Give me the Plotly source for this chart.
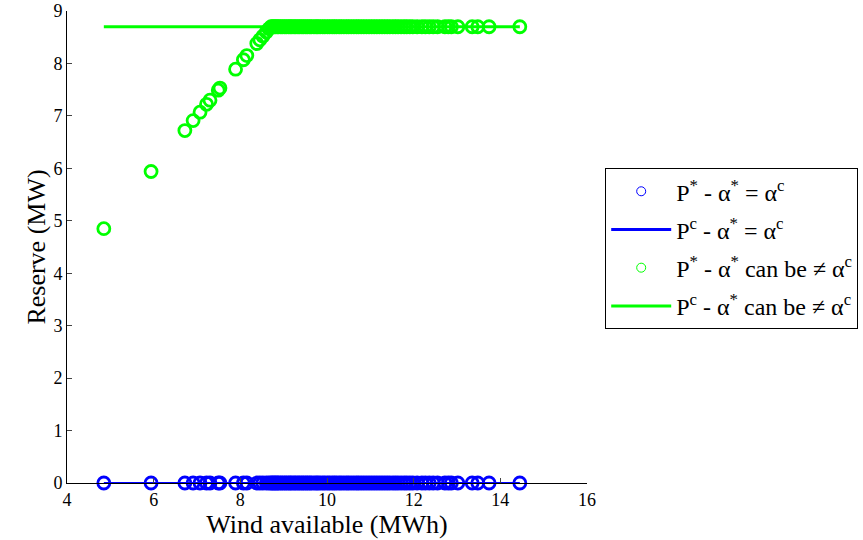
import plotly.graph_objects as go

# Wind available (MWh) for each scenario
x_wind = [4.85, 5.94, 6.72, 6.91, 7.07, 7.22, 7.30, 7.49, 7.53, 7.89, 8.07, 8.15,
          8.38, 8.45, 8.52, 8.60, 8.66, 8.71, 8.74, 8.78, 8.81, 8.85, 8.88, 8.93,
          8.97, 9.02, 9.06, 9.11, 9.15, 9.19, 9.24, 9.28, 9.33, 9.37, 9.42, 9.46,
          9.51, 9.55, 9.60, 9.64, 9.70, 9.75, 9.79, 9.84, 9.90, 9.95, 10.01, 10.06,
          10.12, 10.17, 10.22, 10.28, 10.33, 10.39, 10.45, 10.50, 10.56, 10.62,
          10.68, 10.73, 10.79, 10.85, 10.91, 10.97, 11.03, 11.09, 11.15, 11.21,
          11.27, 11.33, 11.39, 11.45, 11.52, 11.58, 11.64, 11.71, 11.78, 11.84,
          11.91, 11.98, 12.08, 12.19, 12.27, 12.36, 12.45, 12.55, 12.72, 12.80,
          12.87, 13.02, 13.35, 13.48, 13.74, 14.45]

# Reserve (MW) when P* - a* = a^c
y_blue = [0.0] * len(x_wind)

# Reserve (MW) when P* - a* can differ from a^c
y_green = [4.85, 5.94, 6.72, 6.91, 7.07, 7.22, 7.30, 7.49, 7.53, 7.89, 8.07, 8.15,
           8.38, 8.45, 8.52, 8.60, 8.66, 8.70, 8.70, 8.70, 8.70, 8.70, 8.70, 8.70,
           8.70, 8.70, 8.70, 8.70, 8.70, 8.70, 8.70, 8.70, 8.70, 8.70, 8.70, 8.70,
           8.70, 8.70, 8.70, 8.70, 8.70, 8.70, 8.70, 8.70, 8.70, 8.70, 8.70, 8.70,
           8.70, 8.70, 8.70, 8.70, 8.70, 8.70, 8.70, 8.70, 8.70, 8.70, 8.70, 8.70,
           8.70, 8.70, 8.70, 8.70, 8.70, 8.70, 8.70, 8.70, 8.70, 8.70, 8.70, 8.70,
           8.70, 8.70, 8.70, 8.70, 8.70, 8.70, 8.70, 8.70, 8.70, 8.70, 8.70, 8.70,
           8.70, 8.70, 8.70, 8.70, 8.70, 8.70, 8.70, 8.70, 8.70, 8.70]

# Constant reserve lines
line_x = [4.85, 14.45]
line_blue_y = [0.0, 0.0]
line_green_y = [8.70, 8.70]

x_ticks = [4, 6, 8, 10, 12, 14, 16]
y_ticks = [0, 1, 2, 3, 4, 5, 6, 7, 8, 9]

names = [
    "P<sup>*</sup> - α<sup>*</sup> = α<sup>c</sup>",
    "P<sup>c</sup> - α<sup>*</sup> = α<sup>c</sup>",
    "P<sup>*</sup> - α<sup>*</sup> can be ≠ α<sup>c</sup>",
    "P<sup>c</sup> - α<sup>*</sup> can be ≠ α<sup>c</sup>",
]

BLUE = "#0000FF"
GREEN = "#00FF00"
FONT = "Liberation Serif"

fig = go.Figure()

# plotted data (legend handled by dummy traces)
fig.add_trace(go.Scatter(x=x_wind, y=y_blue, mode="markers", showlegend=False,
                         cliponaxis=False,
                         marker=dict(symbol="circle-open", size=12, color=BLUE,
                                     line=dict(width=2.8, color=BLUE))))
fig.add_trace(go.Scatter(x=line_x, y=line_blue_y, mode="lines", showlegend=False,
                         cliponaxis=False, line=dict(color=BLUE, width=2)))
fig.add_trace(go.Scatter(x=x_wind, y=y_green, mode="markers", showlegend=False,
                         cliponaxis=False,
                         marker=dict(symbol="circle-open", size=12, color=GREEN,
                                     line=dict(width=2.8, color=GREEN))))
fig.add_trace(go.Scatter(x=line_x, y=line_green_y, mode="lines", showlegend=False,
                         cliponaxis=False, line=dict(color=GREEN, width=3)))

# legend entries
fig.add_trace(go.Scatter(x=[None], y=[None], mode="markers", name=names[0],
                         legendgroup="a",
                         marker=dict(symbol="circle-open", size=9, color=BLUE,
                                     line=dict(width=1, color=BLUE))))
fig.add_trace(go.Scatter(x=[None], y=[None], mode="lines", name=names[1],
                         legendgroup="b",
                         line=dict(color=BLUE, width=3)))
fig.add_trace(go.Scatter(x=[None], y=[None], mode="markers", name=names[2],
                         legendgroup="c",
                         marker=dict(symbol="circle-open", size=9, color=GREEN,
                                     line=dict(width=1, color=GREEN))))
fig.add_trace(go.Scatter(x=[None], y=[None], mode="lines", name=names[3],
                         legendgroup="d",
                         line=dict(color=GREEN, width=3)))

fig.update_layout(
    width=863, height=540,
    margin=dict(l=67, r=276, t=11, b=57, autoexpand=False),
    plot_bgcolor="white", paper_bgcolor="white",
    font=dict(family=FONT, size=18, color="black"),
    showlegend=True,
    legend=dict(x=1.035, y=0.667, xanchor="left", yanchor="top",
                bordercolor="black", borderwidth=1, bgcolor="white",
                font=dict(family=FONT, size=24, color="black"),
                itemwidth=60, tracegroupgap=4),
)
fig.update_xaxes(range=[4, 16], tickvals=x_ticks, ticks="inside", ticklen=5,
                 showline=True, linecolor="black", linewidth=1, mirror=False,
                 showgrid=False, zeroline=False, automargin=False,
                 ticklabeloverflow="allow",
                 tickfont=dict(family=FONT, size=18),
                 title=dict(text="Wind available (MWh)", font=dict(family=FONT, size=26),
                            standoff=0))
fig.update_yaxes(range=[0, 9], tickvals=y_ticks, ticks="inside", ticklen=5,
                 showline=True, linecolor="black", linewidth=1, mirror=False,
                 showgrid=False, zeroline=False, automargin=False,
                 ticklabeloverflow="allow",
                 tickfont=dict(family=FONT, size=18),
                 title=dict(text="Reserve (MW)", font=dict(family=FONT, size=26),
                            standoff=0))

fig.write_html("out.html",
               config={"displayModeBar": False},
               post_script="document.body.style.margin='0';document.body.style.overflow='hidden';")
